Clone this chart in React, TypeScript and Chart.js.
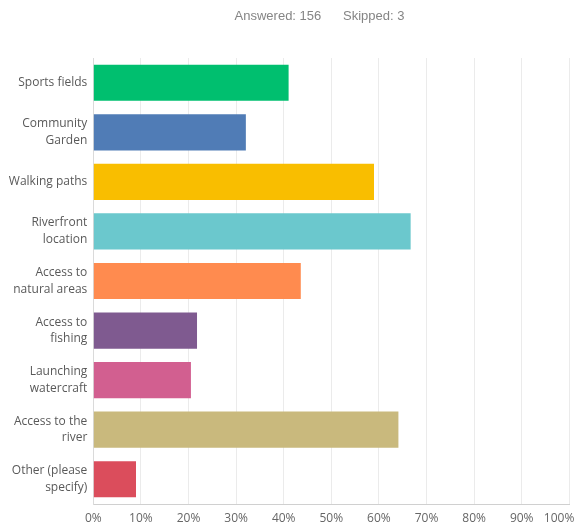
import React, { useEffect, useRef } from "react";
import { Chart, registerables } from "chart.js";

Chart.register(...registerables);

const categories: string[][] = [
  ["Sports fields"],
  ["Community", "Garden"],
  ["Walking paths"],
  ["Riverfront", "location"],
  ["Access to", "natural areas"],
  ["Access to", "fishing"],
  ["Launching", "watercraft"],
  ["Access to the", "river"],
  ["Other (please", "specify)"],
];

const percentages: number[] = [41.03, 32.05, 58.97, 66.67, 43.59, 21.79, 20.51, 64.1, 8.97];

const barColors: string[] = [
  "#00bf6f",
  "#507cb6",
  "#f9be00",
  "#6bc8cd",
  "#ff8b4f",
  "#7f5a90",
  "#d25f90",
  "#c9b97d",
  "#db4d5c",
];

const answeredText = "Answered: 156";
const skippedText = "Skipped: 3";

const xMin = 0;
const xMax = 100;
const xStep = 10;

const tickFont = "12px 'Open Sans'";

// Keeps the last x tick label inside the canvas (shifted left like the reference)
const lastLabelFit = {
  id: "lastLabelFit",
  beforeDraw(chart: any) {
    const scale = chart.scales.x;
    if (!scale || !scale.getLabelItems) return;
    const items = scale.getLabelItems();
    if (!items || !items.length) return;
    const last = items[items.length - 1];
    if (!last || !last.options || !last.options.translation || last._fitted) return;
    const ctx = chart.ctx;
    ctx.save();
    ctx.font = (last.font && last.font.string) || tickFont;
    const w = ctx.measureText(String(last.label)).width;
    ctx.restore();
    const maxRight = chart.chartArea.right + 5;
    const x = last.options.translation[0];
    if (x + w / 2 > maxRight) {
      last.options.translation[0] = maxRight - w / 2;
    }
    last._fitted = true;
  },
};

export default function App() {
  const canvasRef = useRef<HTMLCanvasElement | null>(null);

  useEffect(() => {
    document.documentElement.style.overflow = "hidden";
    const canvas = canvasRef.current;
    if (!canvas) return;
    const chart = new Chart(canvas, {
      type: "bar",
      data: {
        labels: categories,
        datasets: [
          {
            data: percentages,
            backgroundColor: barColors,
            borderWidth: 0,
            barPercentage: 0.73,
            categoryPercentage: 1,
          },
        ],
      },
      plugins: [lastLabelFit],
      options: {
        indexAxis: "y",
        animation: false,
        responsive: false,
        maintainAspectRatio: false,
        layout: { padding: { top: 50, right: 14.7, bottom: 0, left: 0 } },
        plugins: {
          legend: { display: false },
          tooltip: { enabled: false },
          title: { display: false },
        },
        scales: {
          x: {
            type: "linear",
            min: xMin,
            max: xMax,
            ticks: {
              stepSize: xStep,
              padding: 7,
              color: "#666666",
              font: { family: "'Open Sans'", size: 12 },
              callback: (v: any) => `${v}%`,
            },
            grid: { color: "#ebebeb", drawTicks: false, lineWidth: 1 },
            border: { display: true, color: "#d0d0d0" },
            afterFit: (scale: any) => {
              scale.height = 20;
              scale.paddingLeft = 0;
              scale.paddingRight = 0;
            },
          },
          y: {
            ticks: {
              padding: 6,
              color: "#595959",
              font: { family: "'Open Sans'", size: 12, lineHeight: 1.4 },
            },
            grid: { display: false, drawTicks: false },
            border: { display: true, color: "#dadada" },
            afterFit: (scale: any) => {
              scale.width = 85.3;
              scale.paddingTop = 0;
              scale.paddingBottom = 0;
            },
          },
        },
      },
    });
    return () => chart.destroy();
  }, []);

  return (
    <div style={{ position: "relative", width: 576, height: 516 }}>
      <canvas ref={canvasRef} width={576} height={516} style={{ display: "block", width: 576, height: 516 }} />
      <div
        style={{
          position: "absolute",
          top: 0,
          left: 0,
          width: 576,
          boxSizing: "border-box",
          paddingLeft: 47,
          textAlign: "center",
          fontFamily: "'Liberation Sans', Arial, sans-serif",
          fontSize: 13,
          lineHeight: "15px",
          color: "#858585",
          whiteSpace: "pre",
        }}
      >
        <span>{answeredText}</span>
        <span style={{ marginLeft: 21.7 }}>{skippedText}</span>
      </div>
    </div>
  );
}
